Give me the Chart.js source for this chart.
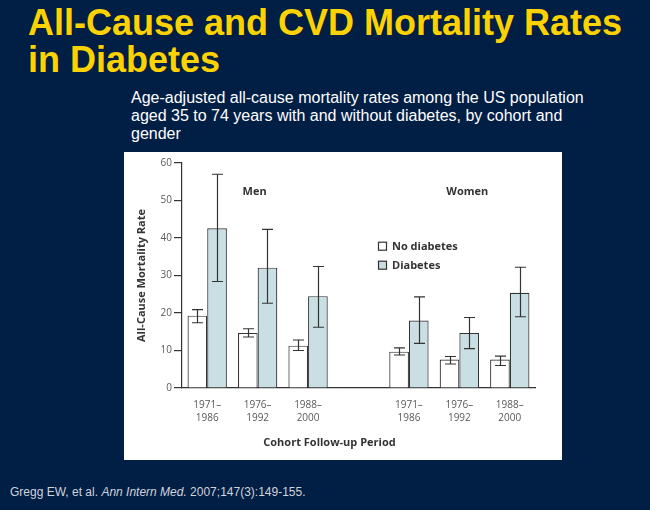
<!DOCTYPE html>
<html>
<head>
<meta charset="utf-8">
<script src="https://cdn.jsdelivr.net/npm/chart.js@4/dist/chart.umd.min.js"></script>
<style>
  html, body { margin: 0; padding: 0; }
  body {
    width: 650px; height: 510px; position: relative; overflow: hidden;
    background: #011e45; font-family: "Liberation Sans", Arial, sans-serif;
  }
  .title {
    position: absolute; left: 28px; top: 4px; margin: 0;
    color: #fcd200; font-size: 36px; font-weight: bold; line-height: 37px;
  }
  .subtitle {
    position: absolute; left: 131px; top: 89px; margin: 0;
    color: #ffffff; font-size: 16px; line-height: 18px;
  }
  .panel {
    position: absolute; left: 124px; top: 152px; width: 438px; height: 308px;
    background: #ffffff;
  }
  .cite {
    position: absolute; left: 10px; top: 485px;
    color: #cfd4dc; font-size: 12px;
  }
</style>
</head>
<body>
<h1 class="title">All-Cause and CVD Mortality Rates<br>in Diabetes</h1>
<p class="subtitle">Age-adjusted all-cause mortality rates among the US population<br>aged 35 to 74 years with and without diabetes, by cohort and<br>gender</p>
<div class="panel"><canvas id="chart" width="438" height="308"></canvas></div>
<div class="cite">Gregg EW, et al. <i>Ann Intern Med.</i> 2007;147(3):149-155.</div>

<script>
'use strict';

// ---- Data ----
var periods = [['1971–', '1986'], ['1976–', '1992'], ['1988–', '2000'], '', ['1971–', '1986'], ['1976–', '1992'], ['1988–', '2000']];
var groupLabels = ['Men', 'Women'];
var seriesNames = ['No diabetes', 'Diabetes'];

var noDiabetes = [19.3, 14.7, 11.3, null, 9.7, 7.6, 7.6];
var noDiabetesLow = [17.4, 13.6, 10.0, null, 8.8, 6.4, 6.0];
var noDiabetesHigh = [20.9, 15.8, 12.8, null, 10.7, 8.4, 8.5];

var diabetes = [42.6, 32.1, 24.5, null, 18.0, 14.7, 25.4];
var diabetesLow = [28.4, 22.6, 16.2, null, 11.9, 10.5, 19.0];
var diabetesHigh = [57.0, 42.3, 32.4, null, 24.3, 18.8, 32.2];

var yTicks = [0, 10, 20, 30, 40, 50, 60];

var INK = '#333333';
var GREY = '#58595b';
var FONT = '"Open Sans", "Liberation Sans", sans-serif';

// ---- Error bars drawn from the scales ----
var errorBars = {
  id: 'errorBars',
  afterDatasetsDraw: function(chart) {
    var ctx = chart.ctx;
    var y = chart.scales.y;
    ctx.save();
    ctx.strokeStyle = INK;
    ctx.lineWidth = 1.2;
    chart.data.datasets.forEach(function(ds, i) {
      var meta = chart.getDatasetMeta(i);
      meta.data.forEach(function(bar, j) {
        if (ds.low[j] == null) return;
        var x = Math.round(bar.x) + 0.5;
        var y1 = y.getPixelForValue(ds.low[j]);
        var y2 = y.getPixelForValue(ds.high[j]);
        ctx.beginPath();
        ctx.moveTo(x, y1); ctx.lineTo(x, y2);
        ctx.moveTo(x - 5.5, y1); ctx.lineTo(x + 5.5, y1);
        ctx.moveTo(x - 5.5, y2); ctx.lineTo(x + 5.5, y2);
        ctx.stroke();
      });
    });
    ctx.restore();
  }
};

// ---- Group labels and legend ----
var annotations = {
  id: 'annotations',
  afterDraw: function(chart) {
    var ctx = chart.ctx;
    var x = chart.scales.x, y = chart.scales.y;
    ctx.save();
    ctx.font = 'bold 11px ' + FONT;
    ctx.fillStyle = INK;
    ctx.textAlign = 'center';
    ctx.textBaseline = 'middle';
    var ly = y.getPixelForValue(52.3);
    ctx.fillText(groupLabels[0], x.getPixelForValue(1) - 3, ly);
    ctx.fillText(groupLabels[1], x.getPixelForValue(5) + 8, ly);

    ctx.textAlign = 'left';
    var lx = 254, rows = [94.7, 113.7];
    chart.data.datasets.forEach(function(ds, i) {
      ctx.fillStyle = ds.backgroundColor;
      ctx.fillRect(lx + 0.5, rows[i] - 4.5, 8, 8);
      ctx.strokeStyle = INK;
      ctx.lineWidth = 1.2;
      ctx.strokeRect(lx + 0.5, rows[i] - 4.5, 8, 8);
      ctx.fillStyle = INK;
      ctx.fillText(seriesNames[i], lx + 14, rows[i]);
    });
    ctx.restore();
  }
};

new Chart(document.getElementById('chart'), {
  type: 'bar',
  data: {
    labels: periods,
    datasets: [
      {
        label: seriesNames[0],
        data: noDiabetes,
        low: noDiabetesLow,
        high: noDiabetesHigh,
        backgroundColor: '#ffffff',
        borderColor: INK,
        borderWidth: 1.2,
      },
      {
        label: seriesNames[1],
        data: diabetes,
        low: diabetesLow,
        high: diabetesHigh,
        backgroundColor: '#c9dfe3',
        borderColor: INK,
        borderWidth: 1.2,
      },
    ],
  },
  options: {
    responsive: false,
    animation: false,
    layout: { padding: { top: 11, right: 27, bottom: 10.4, left: 0 } },
    datasets: { bar: { barPercentage: 1, categoryPercentage: 0.78 } },
    plugins: {
      legend: { display: false },
      tooltip: { enabled: false },
      title: {
        display: true,
        position: 'bottom',
        text: 'Cohort Follow-up Period',
        color: INK,
        font: { family: FONT, size: 11, weight: 'bold', lineHeight: 1.2 },
        padding: 0,
      },
    },
    scales: {
      x: {
        grid: { display: false, drawTicks: false },
        border: { display: true, color: INK, width: 1.2 },
        ticks: {
          color: GREY,
          padding: 11,
          maxRotation: 0,
          autoSkip: false,
          font: { family: FONT, size: 10, lineHeight: 1.25 },
        },
        afterFit: function(scale) { scale.height = 48.4; },
      },
      y: {
        min: 0,
        max: 60,
        afterBuildTicks: function(scale) {
          scale.ticks = yTicks.map(function(v) { return { value: v }; });
        },
        grid: { drawOnChartArea: false, drawTicks: true, tickLength: 8, color: INK, lineWidth: 1.2 },
        border: { display: true, color: INK, width: 1.2 },
        ticks: {
          color: GREY,
          padding: 2,
          font: { family: FONT, size: 10 },
        },
        title: {
          display: true,
          text: 'All-Cause Mortality Rate',
          color: INK,
          font: { family: FONT, size: 11, weight: 'bold', lineHeight: 1.2 },
          padding: { top: 11, bottom: 0 },
        },
        afterFit: function(scale) { scale.width = 58; },
      },
    },
  },
  plugins: [errorBars, annotations],
});
</script>
</body>
</html>
